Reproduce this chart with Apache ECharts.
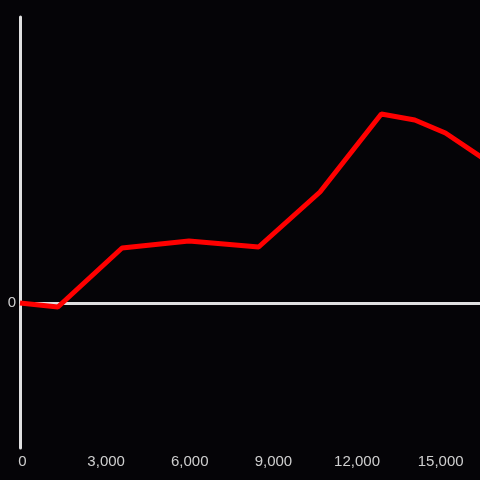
<!DOCTYPE html>
<html><head><meta charset="utf-8">
<script src="https://cdn.jsdelivr.net/npm/echarts@6/dist/echarts.min.js"></script>
<style>html,body{margin:0;padding:0;background:#050407;}#c{width:480px;height:480px;}</style>
</head><body><div id="c"></div>
<script>
const xValues = [0, 1360, 3660, 6060, 8560, 10760, 12960, 14160, 15260, 16600];
const yValues = [0, -0.04, 0.55, 0.62, 0.56, 1.11, 1.89, 1.83, 1.70, 1.45];
const xTickStep = 3000;
const yLabels = ['0'];

const chart = echarts.init(document.getElementById('c'));
chart.setOption({
  backgroundColor: '#050407',
  animation: false,
  grid: {left: 20, right: 0, top: 17, bottom: 32, containLabel: false},
  xAxis: {
    type: 'value', min: 0, max: 16500, interval: xTickStep,
    axisLine: {show: false, onZero: false},
    axisTick: {show: false},
    splitLine: {show: false},
    axisLabel: {color: '#cfcfcf', fontSize: 15, margin: 6, fontFamily: 'Liberation Sans, Arial',
      showMaxLabel: false, padding: [0, 0, 0, 5],
      formatter: v => v.toLocaleString('en-US')}
  },
  yAxis: {
    type: 'value', min: -1.45, max: 2.86,
    interval: 1.45,
    axisLine: {show: true, onZero: false, lineStyle: {color: '#e0e0e0', width: 3}},
    axisTick: {show: false},
    splitLine: {show: false},
    axisLabel: {color: '#cfcfcf', fontSize: 15, margin: 4, fontFamily: 'Liberation Sans, Arial',
      padding: [3, 0, 0, 0],
      formatter: v => (Math.abs(v) < 1e-9 ? yLabels[0] : '')}
  },
  series: [{
    type: 'line',
    data: xValues.map((x, i) => [x, yValues[i]]),
    symbol: 'none',
    clip: true,
    lineStyle: {color: '#ff0000', width: 5},
    z: 3,
    markLine: {
      silent: true, symbol: 'none', label: {show: false},
      lineStyle: {color: '#e0e0e0', width: 3, type: 'solid'},
      z: 2,
      data: [{yAxis: 0}]
    }
  }]
});
</script></body></html>
